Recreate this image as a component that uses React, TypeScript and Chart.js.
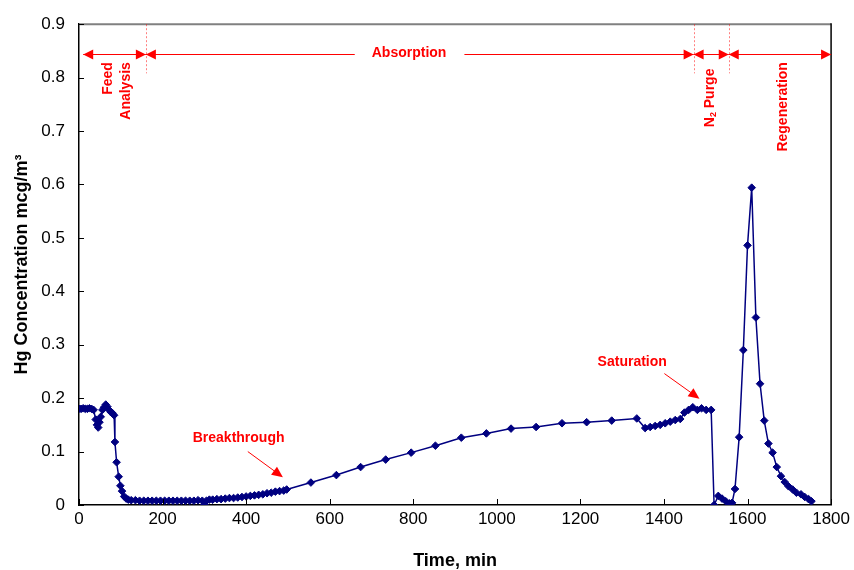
import React, { useEffect, useRef } from "react";
import { Chart, registerables } from "chart.js";

Chart.register(...registerables);

// ---- Data ----
const timeMin = [
  0, 5, 10, 15, 20, 25, 30, 35, 40, 43, 46, 49, 52, 56, 60, 64, 68, 72, 76, 80, 84,
  86, 90, 95, 99, 103, 108, 113, 118, 125, 135, 145, 155, 165, 175, 185, 195, 205,
  215, 225, 235, 245, 255, 265, 275, 285, 295, 300, 305, 312, 320, 330, 340, 350,
  360, 370, 380, 390, 400, 410, 420, 430, 440, 450, 460, 470, 480, 490, 497,
  555, 616, 674, 734, 795, 853, 915, 975, 1034, 1094, 1156, 1215, 1275, 1335,
  1355, 1367, 1379, 1391, 1403, 1415, 1427, 1439, 1449, 1459, 1469, 1480, 1490,
  1501, 1513, 1520, 1530, 1539, 1548, 1557, 1563, 1570, 1580, 1590, 1600, 1610,
  1620, 1630, 1640, 1650, 1660, 1670, 1680, 1689, 1698, 1708, 1717, 1728, 1737,
  1746, 1753,
];

const hgConc = [
  0.18, 0.18, 0.181, 0.18, 0.18, 0.181, 0.18, 0.178, 0.16, 0.15, 0.145, 0.155,
  0.165, 0.178, 0.183, 0.188, 0.184, 0.178, 0.174, 0.172, 0.168,
  0.118, 0.08, 0.053, 0.036, 0.026, 0.016, 0.012, 0.01, 0.009, 0.009, 0.008,
  0.008, 0.008, 0.008, 0.008, 0.008, 0.008, 0.008, 0.008, 0.008, 0.008, 0.008,
  0.008, 0.008, 0.009, 0.008, 0.001, 0.008, 0.01, 0.01, 0.011, 0.011, 0.012,
  0.013, 0.013, 0.014, 0.015, 0.016, 0.017, 0.018, 0.019, 0.02, 0.022, 0.023,
  0.025, 0.026, 0.027, 0.029,
  0.042, 0.056, 0.071, 0.085, 0.098, 0.111, 0.126, 0.134, 0.143, 0.146, 0.153,
  0.155, 0.158, 0.162,
  0.144, 0.146, 0.148, 0.15, 0.153, 0.156, 0.159, 0.161, 0.173, 0.178, 0.183,
  0.178, 0.181, 0.178, 0.178, 0.0, 0.017, 0.012, 0.007, 0.003, 0.004, 0.03,
  0.127, 0.29, 0.486, 0.594, 0.351, 0.227, 0.158, 0.115, 0.098, 0.071, 0.054,
  0.043, 0.035, 0.029, 0.023, 0.02, 0.015, 0.011, 0.007,
];

const xMin = 0;
const xMax = 1800;
const xStep = 200;
const yMin = 0;
const yMax = 0.9;
const yStep = 0.1;

// Phase annotations (time, min)
const phaseStart = [10, 160, 1471, 1555];
const phaseEnd = [160, 1471, 1555, 1800];
const phaseDividers = [160, 1471, 1555];
const arrowLevel = 0.845;
const dividerTop = 0.9;
const dividerBottom = 0.808;
const absorptionLabel = "Absorption";
const absorptionLabelTime = 790;
const verticalLabels = ["Feed", "Analysis", "Regeneration"];
const verticalLabelTimes = [70, 114, 1685];
const verticalLabelTop = 0.829;
const purgeLabelTime = 1510;
const purgeLabelTop = 0.817;

// Callouts: label, label position, arrow start, arrow tip
const calloutLabels = ["Breakthrough", "Saturation"];
const calloutLabelT = [382, 1324];
const calloutLabelV = [0.126, 0.268];
const calloutFromT = [404, 1401];
const calloutFromV = [0.1, 0.246];
const calloutToT = [488, 1485];
const calloutToV = [0.052, 0.199];

const FONT = "'Liberation Sans', Arial, Helvetica, sans-serif";
const RED = "#ff0000";
const NAVY = "#000080";

function arrowHead(ctx: CanvasRenderingContext2D, tipX: number, tipY: number, angle: number, len: number, half: number) {
  ctx.save();
  ctx.translate(tipX, tipY);
  ctx.rotate(angle);
  ctx.beginPath();
  ctx.moveTo(0, 0);
  ctx.lineTo(-len, -half);
  ctx.lineTo(-len, half);
  ctx.closePath();
  ctx.fill();
  ctx.restore();
}

const decorPlugin = {
  id: "decor",
  afterDraw(chart: any) {
    const ctx: CanvasRenderingContext2D = chart.ctx;
    const xs = chart.scales.x;
    const ys = chart.scales.y;
    const a = chart.chartArea;
    ctx.save();

    // frame: top (grey) and right (black)
    ctx.strokeStyle = "#808080";
    ctx.lineWidth = 2;
    ctx.beginPath();
    ctx.moveTo(a.left, a.top);
    ctx.lineTo(a.right, a.top);
    ctx.stroke();
    ctx.strokeStyle = "#000";
    ctx.lineWidth = 1.5;
    ctx.beginPath();
    ctx.moveTo(a.right, a.top - 1);
    ctx.lineTo(a.right, a.bottom);
    ctx.stroke();

    // inward tick marks
    ctx.lineWidth = 1;
    ctx.strokeStyle = "#000";
    ctx.beginPath();
    for (const t of xs.ticks) {
      const px = Math.round(xs.getPixelForValue(t.value)) + 0.5;
      ctx.moveTo(px, a.bottom);
      ctx.lineTo(px, a.bottom - 6);
    }
    for (const t of ys.ticks) {
      const py = Math.round(ys.getPixelForValue(t.value)) + 0.5;
      ctx.moveTo(a.left, py);
      ctx.lineTo(a.left + 5, py);
    }
    ctx.stroke();

    // dotted phase dividers
    ctx.strokeStyle = "rgba(255,0,0,0.5)";
    ctx.lineWidth = 1;
    ctx.setLineDash([2, 2]);
    ctx.beginPath();
    for (const d of phaseDividers) {
      const px = Math.round(xs.getPixelForValue(d)) + 0.5;
      ctx.moveTo(px, ys.getPixelForValue(dividerTop));
      ctx.lineTo(px, ys.getPixelForValue(dividerBottom));
    }
    ctx.stroke();
    ctx.setLineDash([]);

    // phase arrows
    const ay = Math.round(ys.getPixelForValue(arrowLevel)) + 0.5;
    ctx.strokeStyle = RED;
    ctx.fillStyle = RED;
    ctx.lineWidth = 1;
    ctx.font = `bold 14px ${FONT}`;
    const absX = xs.getPixelForValue(absorptionLabelTime);
    const absW = ctx.measureText(absorptionLabel).width;
    for (let i = 0; i < phaseStart.length; i++) {
      const x1 = xs.getPixelForValue(phaseStart[i]);
      const x2 = xs.getPixelForValue(phaseEnd[i]);
      ctx.beginPath();
      if (i === 1) {
        ctx.moveTo(x1, ay);
        ctx.lineTo(absX - absW / 2 - 17, ay);
        ctx.moveTo(absX + absW / 2 + 18, ay);
        ctx.lineTo(x2, ay);
      } else {
        ctx.moveTo(x1, ay);
        ctx.lineTo(x2, ay);
      }
      ctx.stroke();
      arrowHead(ctx, x1, ay, Math.PI, 10, 5);
      arrowHead(ctx, x2, ay, 0, 10, 5);
    }
    ctx.textAlign = "center";
    ctx.textBaseline = "middle";
    ctx.fillText(absorptionLabel, absX, ay - 1);

    // vertical labels
    const drawVertical = (text: string, t: number, topV: number) => {
      ctx.save();
      ctx.translate(xs.getPixelForValue(t), ys.getPixelForValue(topV));
      ctx.rotate(-Math.PI / 2);
      ctx.textAlign = "right";
      ctx.textBaseline = "middle";
      ctx.fillText(text, 0, 0);
      ctx.restore();
    };
    for (let i = 0; i < verticalLabels.length; i++) {
      drawVertical(verticalLabels[i], verticalLabelTimes[i], verticalLabelTop);
    }

    // N2 Purge with subscript
    ctx.save();
    ctx.translate(xs.getPixelForValue(purgeLabelTime), ys.getPixelForValue(purgeLabelTop));
    ctx.rotate(-Math.PI / 2);
    ctx.textBaseline = "middle";
    ctx.textAlign = "left";
    const big = `bold 14px ${FONT}`;
    const small = `bold 9px ${FONT}`;
    ctx.font = big;
    const wN = ctx.measureText("N").width;
    const wP = ctx.measureText(" Purge").width;
    ctx.font = small;
    const w2 = ctx.measureText("2").width;
    const total = wN + w2 + wP;
    let cx = -total;
    ctx.font = big;
    ctx.fillText("N", cx, 0);
    cx += wN;
    ctx.font = small;
    ctx.fillText("2", cx, 4);
    cx += w2;
    ctx.font = big;
    ctx.fillText(" Purge", cx, 0);
    ctx.restore();

    // callouts
    ctx.font = `bold 14px ${FONT}`;
    ctx.textAlign = "center";
    ctx.textBaseline = "middle";
    for (let i = 0; i < calloutLabels.length; i++) {
      ctx.fillText(calloutLabels[i], xs.getPixelForValue(calloutLabelT[i]), ys.getPixelForValue(calloutLabelV[i]));
      const fx = xs.getPixelForValue(calloutFromT[i]);
      const fy = ys.getPixelForValue(calloutFromV[i]);
      const tx = xs.getPixelForValue(calloutToT[i]);
      const ty = ys.getPixelForValue(calloutToV[i]);
      const ang = Math.atan2(ty - fy, tx - fx);
      ctx.beginPath();
      ctx.moveTo(fx, fy);
      ctx.lineTo(tx - Math.cos(ang) * 8, ty - Math.sin(ang) * 8);
      ctx.stroke();
      arrowHead(ctx, tx, ty, ang, 11, 5);
    }

    ctx.restore();
  },
};

export default function App() {
  const ref = useRef<HTMLCanvasElement | null>(null);

  useEffect(() => {
    document.body.style.margin = "0";
    const canvas = ref.current;
    if (!canvas) return;
    const points = timeMin.map((t, i) => ({ x: t, y: hgConc[i] }));
    const chart = new Chart(canvas, {
      type: "scatter",
      data: {
        datasets: [
          {
            label: "Hg Concentration",
            data: points,
            showLine: true,
            borderColor: NAVY,
            borderWidth: 1.5,
            backgroundColor: NAVY,
            pointStyle: "rectRot",
            pointRadius: 3.8,
            pointBorderWidth: 1,
            pointBorderColor: NAVY,
            pointBackgroundColor: NAVY,
            tension: 0,
          },
        ],
      },
      options: {
        responsive: false,
        animation: false,
        devicePixelRatio: 1,
        layout: { padding: { left: 0, right: 22, top: 22, bottom: 0 } },
        plugins: {
          legend: { display: false },
          tooltip: { enabled: false },
        },
        scales: {
          x: {
            type: "linear",
            min: xMin,
            max: xMax,
            ticks: {
              stepSize: xStep,
              color: "#000",
              font: { family: FONT, size: 17 },
              padding: 4,
              maxRotation: 0,
              callback: (v: any) => String(Math.round(Number(v))),
            },
            grid: { display: true, drawOnChartArea: false, drawTicks: false },
            border: { display: true, color: "#000", width: 1.5 },
            title: {
              display: true,
              text: "Time, min",
              color: "#000",
              font: { family: FONT, size: 18, weight: "bold", lineHeight: 1 },
              padding: { top: 0, bottom: 0 },
            },
            afterFit: (s: any) => {
              s.height = 65;
            },
          },
          y: {
            type: "linear",
            min: yMin,
            max: yMax,
            ticks: {
              stepSize: yStep,
              color: "#000",
              font: { family: FONT, size: 17 },
              padding: 14,
              callback: (v: any) => String(Math.round(Number(v) * 10) / 10),
            },
            grid: { display: true, drawOnChartArea: false, drawTicks: false },
            border: { display: true, color: "#000", width: 1.5 },
            title: {
              display: true,
              text: "Hg Concentration mcg/m³",
              color: "#000",
              font: { family: FONT, size: 18, weight: "bold", lineHeight: 1.2 },
              padding: { top: 11, bottom: 0 },
            },
            afterFit: (s: any) => {
              s.width = 79;
            },
          },
        },
      },
      plugins: [decorPlugin],
    });
    return () => chart.destroy();
  }, []);

  return (
    <div style={{ width: 854, height: 570 }}>
      <canvas ref={ref} width={854} height={570} style={{ display: "block" }} />
    </div>
  );
}
